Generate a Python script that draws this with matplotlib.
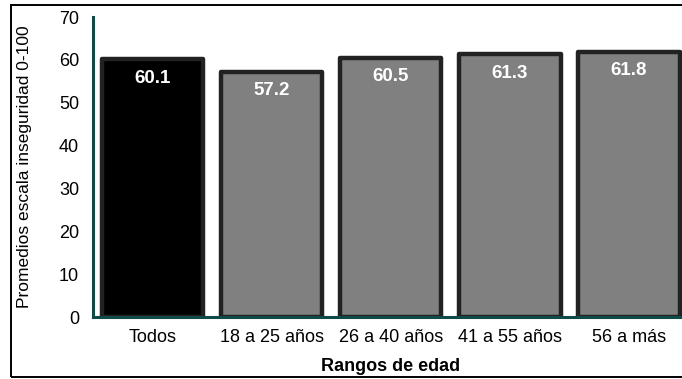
import matplotlib
matplotlib.use("Agg")
import matplotlib.pyplot as plt
from matplotlib.patches import Rectangle

# Data
categories = ["Todos", "18 a 25 años", "26 a 40 años", "41 a 55 años", "56 a más"]
values = [60.1, 57.2, 60.5, 61.3, 61.8]
bar_colors = ["#000000", "#808080", "#808080", "#808080", "#808080"]
yticks = [0, 10, 20, 30, 40, 50, 60, 70]

plt.rcParams["font.family"] = ["Liberation Sans", "DejaVu Sans"]

W, H = 682, 379
fig = plt.figure(figsize=(W / 100, H / 100), dpi=100)

# Outer frame around the chart (right side runs past the edge)
frame = Rectangle((10.5 / W, 2.0 / H), 700 / W, 372 / H, transform=fig.transFigure,
                  fill=False, edgecolor="black", linewidth=1.4, zorder=0)
fig.patches.append(frame)

left, right = 93 / W, 688.6 / W
bottom, top = 1 - 317 / H, 1 - 17 / H
ax = fig.add_axes([left, bottom, right - left, top - bottom])

x = range(len(categories))
bars = ax.bar(x, values, width=0.85, color=bar_colors, edgecolor="#222222",
              linewidth=3.2, joinstyle="round", zorder=2)

for xi, v in zip(x, values):
    ax.annotate(f"{v:.1f}", xy=(xi, v), xytext=(0, -13.5), textcoords="offset points",
                ha="center", va="center", color="white", fontweight="bold",
                fontsize=13.5, zorder=3)

ax.set_xlim(-0.5, len(categories) - 0.5)
ax.set_ylim(0, 70)
ax.set_yticks(yticks)
ax.set_xticks(list(x))
ax.set_xticklabels(categories)
ax.tick_params(axis="both", length=0, labelsize=13)
ax.tick_params(axis="x", pad=9)
ax.tick_params(axis="y", pad=10)

for side in ("top", "right"):
    ax.spines[side].set_visible(False)
for side in ("left", "bottom"):
    ax.spines[side].set_color("#0f4a47")
    ax.spines[side].set_linewidth(2.2)
    ax.spines[side].set_zorder(4)

ax.set_ylabel("Promedios escala inseguridad 0-100", fontsize=12.5)
ax.yaxis.set_label_coords(-61 / ((right - left) * W), 0.5)
ax.set_xlabel("Rangos de edad", fontsize=13, fontweight="bold")
ax.xaxis.set_label_coords(0.5, -41 / ((top - bottom) * H))

fig.savefig("out.png", dpi=100)
